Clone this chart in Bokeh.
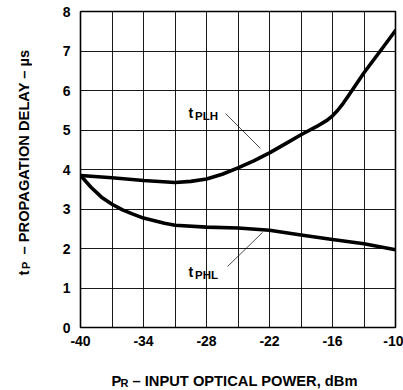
import math
from bokeh.plotting import figure
from bokeh.models import FixedTicker, Label, Arrow, Range1d
from bokeh.layouts import row, column
from bokeh.embed import file_html
from bokeh.resources import INLINE

# ---- data ----
plh_x = [-40, -37, -34, -31, -29.5, -28, -26.5, -25, -23.5, -22, -20.5, -19, -17.5, -16.5, -16, -15.5, -15, -14.5, -13, -11.5, -10]
plh_y = [3.85, 3.79, 3.72, 3.67, 3.70, 3.76, 3.88, 4.04, 4.22, 4.42, 4.65, 4.88, 5.09, 5.25, 5.36, 5.50, 5.67, 5.86, 6.45, 6.98, 7.52]

phl_x = [-40, -39, -38, -37, -36, -35, -34, -32, -31, -28, -25, -22, -19, -16, -13, -10]
phl_y = [3.85, 3.55, 3.30, 3.12, 2.98, 2.87, 2.77, 2.64, 2.59, 2.54, 2.52, 2.46, 2.34, 2.23, 2.12, 1.97]

x_ticks = [-40, -34, -28, -22, -16, -10]
x_tick_labels = ["-40", "-34", "-28", "-22", "-16", "-10"]
x_grid = [-40, -37, -34, -31, -28, -25, -22, -19, -16, -13, -10]
y_ticks = [0, 1, 2, 3, 4, 5, 6, 7, 8]

x_title = ("P", "R", "\u2013 INPUT OPTICAL POWER, dBm")
y_title = ("t", "P", "\u2013 PROPAGATION DELAY \u2013 \u00b5s")
curve_labels = (("t", "PLH"), ("t", "PHL"))

FONT = "Liberation Sans"

# page layout (pixels)
TOTAL_W, TOTAL_H = 403, 390
YT_W = 32            # width of y-title strip
XT_H = 30            # height of x-title strip
MAIN_W, MAIN_H = TOTAL_W - YT_W, TOTAL_H - XT_H

FL, FR, FT, FB = 80, 395, 11, 327   # frame edges in page pixels

p = figure(width=MAIN_W, height=MAIN_H, output_backend="svg", toolbar_location=None,
           x_range=Range1d(-40, -10), y_range=Range1d(0, 8),
           min_border_left=FL - YT_W, min_border_right=TOTAL_W - FR,
           min_border_top=FT, min_border_bottom=MAIN_H - FB)
p.background_fill_color = "white"
p.border_fill_color = "white"
p.outline_line_color = "black"
p.outline_line_width = 1.6

p.xaxis.ticker = FixedTicker(ticks=x_ticks)
p.xaxis.major_label_overrides = {t: s for t, s in zip(x_ticks, x_tick_labels)}
p.yaxis.ticker = FixedTicker(ticks=y_ticks)
p.xgrid.ticker = FixedTicker(ticks=x_grid)
p.ygrid.ticker = FixedTicker(ticks=y_ticks)
for g in (p.xgrid, p.ygrid):
    g.grid_line_color = "black"
    g.grid_line_width = 1
    g.grid_line_alpha = 0.9

for ax in (p.xaxis, p.yaxis):
    ax.axis_line_color = None
    ax.major_tick_line_color = None
    ax.minor_tick_line_color = None
    ax.major_tick_out = 0
    ax.major_tick_in = 0
    ax.minor_tick_out = 0
    ax.major_label_text_font = FONT
    ax.major_label_text_font_style = "bold"
    ax.major_label_text_font_size = "14px"
    ax.major_label_text_color = "black"
p.xaxis.major_label_standoff = 8
p.yaxis.major_label_standoff = 10

p.line(plh_x, plh_y, line_color="black", line_width=3.6, line_join="round", line_cap="round")
p.line(phl_x, phl_y, line_color="black", line_width=3.6, line_join="round", line_cap="round")

FW, FH = FR - FL, FB - FT
def dx(px):
    return -40 + (px - FL) * 30.0 / FW
def dy(py):
    return (FB - py) * 8.0 / FH

def lab(fig, text, sx, sy, size, angle=0.0):
    fig.add_layout(Label(x=sx, y=sy, x_units="screen", y_units="screen",
                         text=text, text_font=FONT, text_font_style="bold",
                         text_font_size=size, text_color="black", text_align="left",
                         text_baseline="alphabetic", angle=angle))

# curve labels (main frame: screen units relative to frame, y up)
for (main, sub), (px, py) in zip(curve_labels, [(188, 112), (188, 271)]):
    lab(p, main, px - FL, FB - py, "14px")
    lab(p, sub, px + 6.5 - FL, FB - py - 3.5, "11.5px")

# leader lines
for (x0, y0, x1, y1) in [(225, 113, 260, 148), (227, 266, 262, 232)]:
    p.add_layout(Arrow(end=None, x_start=dx(x0), y_start=dy(y0), x_end=dx(x1), y_end=dy(y1),
                       line_color="black", line_width=0.7))

def strip(w, h):
    f = figure(width=w, height=h, output_backend="svg", toolbar_location=None,
               x_range=Range1d(0, w), y_range=Range1d(0, h),
               x_axis_location=None, y_axis_location=None, min_border=0)
    f.outline_line_color = None
    f.background_fill_color = "white"
    f.border_fill_color = "white"
    f.grid.visible = False
    return f

# y title strip (page origin 0,0)
yt = strip(YT_W, MAIN_H)
a = math.pi / 2
lab(yt, y_title[0], 23, MAIN_H - 308, "14.7px", a)
lab(yt, y_title[1], 25.5, MAIN_H - 301.5, "11px", a)
lab(yt, y_title[2], 23, MAIN_H - 287, "14.7px", a)

# x title strip (page origin 0, MAIN_H)
xt = strip(TOTAL_W, XT_H)
lab(xt, x_title[0], 111, TOTAL_H - 380, "14.7px")
lab(xt, x_title[1], 120, TOTAL_H - 382.5, "11px")
lab(xt, x_title[2], 132, TOTAL_H - 380, "14.7px")

layout = column(row(yt, p, spacing=0), xt, spacing=0)
open("out.html", "w").write(file_html(layout, INLINE))
